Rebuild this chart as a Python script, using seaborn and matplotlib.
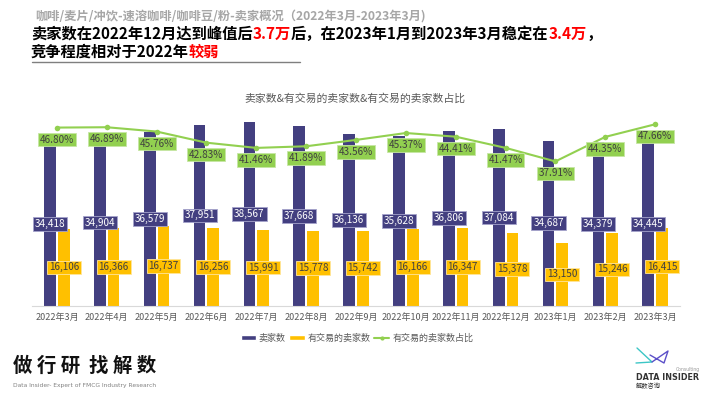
import numpy as np
import pandas as pd
import seaborn as sns
from matplotlib import pyplot as plt
from matplotlib.lines import Line2D
from matplotlib.patches import Patch

# 数据
months = ['2022年3月', '2022年4月', '2022年5月', '2022年6月', '2022年7月', '2022年8月',
          '2022年9月', '2022年10月', '2022年11月', '2022年12月', '2023年1月', '2023年2月', '2023年3月']
sellers = [34418, 34904, 36579, 37951, 38567, 37668, 36136, 35628, 36806, 37084, 34687, 34379, 34445]
traded = [16106, 16366, 16737, 16256, 15991, 15778, 15742, 16166, 16347, 15378, 13150, 15246, 16415]
ratio = [46.80, 46.89, 45.76, 42.83, 41.46, 41.89, 43.56, 45.37, 44.41, 41.47, 37.91, 44.35, 47.66]
series_names = ['卖家数', '有交易的卖家数', '有交易的卖家数占比']

BLUE = '#433F80'
YELLOW = '#FFC000'
GREEN = '#92D050'
W, H = 710, 399

sns.set_style('white')
plt.rcParams['font.family'] = ['Noto Sans CJK SC', 'DejaVu Sans']


def fx(x):
    return x / W


def fy(y):
    return 1 - y / H


df = pd.DataFrame({'month': months * 2,
                   'value': sellers + traded,
                   'series': [series_names[0]] * len(months) + [series_names[1]] * len(months)})

fig = plt.figure(figsize=(7.1, 3.99), dpi=100)
fig.patch.set_facecolor('white')
ax = fig.add_axes([fx(32), fy(305.7), fx(648), 190.3 / H])

sns.barplot(data=df, x='month', y='value', hue='series', order=months,
            palette=[BLUE, YELLOW], saturation=1, width=0.55, gap=0.15,
            ax=ax, legend=False, linewidth=0)

label_style = [(BLUE, 'white', '#A5A3CC'), (YELLOW, '#404040', '#FFE59A')]
for cont, (fc, tc, ec) in zip(ax.containers, label_style):
    ax.bar_label(cont, labels=[f'{v:,.0f}' for v in cont.datavalues], label_type='center',
                 fontsize=7.2, color=tc,
                 bbox=dict(boxstyle='square,pad=0.18', fc=fc, ec=ec, lw=0.6))

ax.set_xlim(-0.5, len(months) - 0.5)
ax.set_ylim(0, 40000)
ax.set_xlabel('')
ax.set_ylabel('')
ax.set_yticks([])
for s in ['left', 'right', 'top']:
    ax.spines[s].set_visible(False)
ax.spines['bottom'].set_color('#D9D9D9')
ax.set_xticks(np.arange(-0.5, len(months), 1), minor=True)
ax.tick_params(axis='x', which='major', length=0, pad=5, labelsize=6.5, labelcolor='#595959')
ax.tick_params(axis='x', which='minor', length=4, color='#D9D9D9')

# 占比折线
ax2 = ax.twinx()
sns.lineplot(x=np.arange(len(months)), y=ratio, ax=ax2, color=GREEN, lw=1.5,
             marker='o', markersize=4, markeredgewidth=0)
ax2.set_ylim(0, 50)
ax2.set_yticks([])
ax2.set_ylabel('')
for s in ax2.spines.values():
    s.set_visible(False)
for i, r in enumerate(ratio):
    ax2.annotate(f'{r:.2f}%', (i, r), xytext=(0, -12), textcoords='offset pixels',
                 ha='center', va='center', fontsize=7.2, color='#3F3F3F',
                 bbox=dict(boxstyle='square,pad=0.18', fc=GREEN, ec='#C6E6A4', lw=0.6))

fig.text(fx(355), fy(99), '卖家数&有交易的卖家数&有交易的卖家数占比', ha='center', va='center',
         fontsize=7.8, color='#595959')

handles = [Patch(fc=BLUE), Patch(fc=YELLOW),
           Line2D([], [], color=GREEN, lw=1.5, marker='o', markersize=3, markeredgewidth=0)]
fig.legend(handles, series_names, loc='center', bbox_to_anchor=(fx(357), fy(338)), ncol=3,
           frameon=False, fontsize=6.5, labelcolor='#595959', handlelength=1.7,
           handleheight=0.6, handletextpad=0.3, columnspacing=0.4)


# 顶部标题
def rich_line(x, y, parts, **kw):
    t = fig.text(x, y, parts[0][0], color=parts[0][1], ha='left', va='bottom', **kw)
    for txt, c in parts[1:]:
        t = ax.annotate(txt, xy=(1, 0), xycoords=t, ha='left', va='bottom', color=c, **kw)


fig.text(fx(35), fy(16), '咖啡/麦片/冲饮-速溶咖啡/咖啡豆/粉-卖家概况（2022年3月-2023年3月)',
         ha='left', va='center', fontsize=8.8, fontweight='bold', color='#A6A6A6')
rich_line(fx(31), fy(42), [('卖家数在2022年12月达到峰值后', 'black'), ('3.7万', '#FF0000'),
                           ('后，在2023年1月到2023年3月稳定在', 'black'), ('3.4万', '#FF0000'),
                           ('，', 'black')],
          fontsize=11, fontweight='bold')
rich_line(fx(31), fy(60), [('竞争程度相对于2022年', 'black'), ('较弱', '#FF0000')],
          fontsize=11, fontweight='bold')
fig.add_artist(Line2D([fx(32), fx(300)], [fy(61.5), fy(61.5)], color='#7F7F7F', lw=1))

# 页脚
fig.text(fx(13), fy(366), '做 行 研  找 解 数', ha='left', va='center', fontsize=14,
         fontweight='bold', color='#111111')
fig.text(fx(13), fy(386), 'Data Insider- Expert of FMCG Industry Research', ha='left',
         va='center', fontsize=4.3, color='#808080', family=['DejaVu Sans'])

fig.text(fx(636), fy(377), 'DATA INSIDER', ha='left', va='center', fontsize=5.8,
         fontweight='bold', color='#333333', family=['DejaVu Sans'])
fig.text(fx(636), fy(386), '解数咨询', ha='left', va='center', fontsize=4.5, color='#333333')
fig.text(fx(700), fy(369), 'Consulting', ha='right', va='center', fontsize=3.3, color='#999999',
         family=['DejaVu Sans'])
fig.add_artist(Line2D([fx(p) for p in (637, 652, 636)], [fy(p) for p in (348, 362, 363)],
                      color='#3CC6C6', lw=1))
fig.add_artist(Line2D([fx(p) for p in (652, 668, 664, 650)], [fy(p) for p in (362, 351, 363, 355)],
                      color='#5B4FC8', lw=1))

plt.savefig('out.png', dpi=100)
